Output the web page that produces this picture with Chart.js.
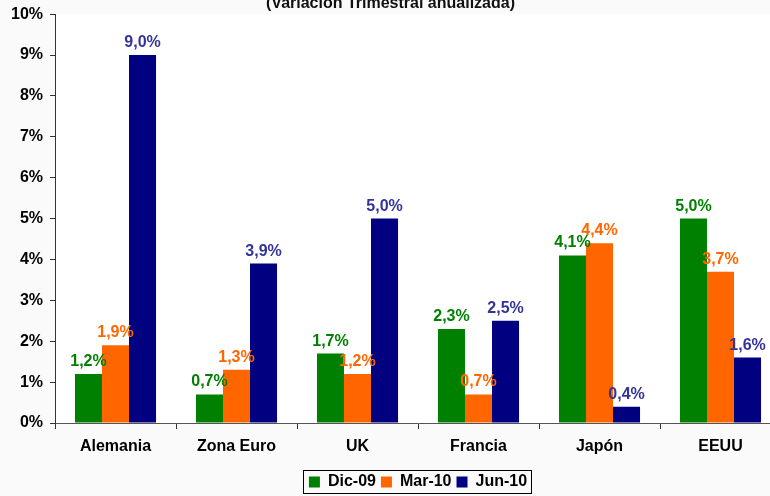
<!DOCTYPE html>
<html>
<head>
<meta charset="utf-8">
<script src="https://cdn.jsdelivr.net/npm/chart.js@4.4.1/dist/chart.umd.min.js"></script>
<style>
  html, body { margin: 0; padding: 0; background: #fafafa; overflow: hidden; width: 770px; height: 496px; }
  #wrap { position: absolute; left: 0; top: -20px; width: 800px; height: 525px; }
</style>
</head>
<body>
<div id="wrap"><canvas id="myBarChart" width="800" height="525"></canvas></div>
<script>
const categories = ['Alemania', 'Zona Euro', 'UK', 'Francia', 'Japón', 'EEUU'];
const dic09 = [1.2, 0.7, 1.7, 2.3, 4.1, 5.0];
const mar10 = [1.9, 1.3, 1.2, 0.7, 4.4, 3.7];
const jun10 = [9.0, 3.9, 5.0, 2.5, 0.4, 1.6];
const yTicks = [0, 1, 2, 3, 4, 5, 6, 7, 8, 9, 10];

const FONT = "'Liberation Sans', Arial, sans-serif";

// value labels above each bar
const valueLabels = {
  id: 'valueLabels',
  afterDatasetsDraw(chart) {
    const ctx = chart.ctx;
    ctx.save();
    ctx.font = 'bold 16px ' + FONT;
    ctx.textAlign = 'center';
    ctx.textBaseline = 'alphabetic';
    chart.data.datasets.forEach((ds, i) => {
      const meta = chart.getDatasetMeta(i);
      ctx.fillStyle = ds.labelColor;
      meta.data.forEach((bar, j) => {
        const txt = ds.data[j].toFixed(1).replace('.', ',') + '%';
        ctx.fillText(txt, bar.x, bar.y - 8);
      });
    });
    ctx.restore();
  }
};

// border around the legend
const legendBorder = {
  id: 'legendBorder',
  afterDraw(chart) {
    const boxes = chart.legend.legendHitBoxes;
    if (!boxes || !boxes.length) return;
    let l = Infinity, r = -Infinity, t = Infinity, b = -Infinity;
    boxes.forEach(h => {
      l = Math.min(l, h.left); r = Math.max(r, h.left + h.width);
      t = Math.min(t, h.top); b = Math.max(b, h.top + h.height);
    });
    const ctx = chart.ctx;
    ctx.save();
    ctx.strokeStyle = '#000';
    ctx.lineWidth = 1;
    ctx.strokeRect(Math.round(l - 6) + 0.5, Math.round(t - 4) + 0.5, Math.round(r - l + 10), Math.round(b - t + 7));
    ctx.restore();
  }
};

const bg = {
  id: 'bg',
  beforeDraw(chart) {
    const ctx = chart.ctx;
    const a = chart.chartArea;
    ctx.save();
    ctx.fillStyle = '#fafafa';
    ctx.fillRect(0, 0, chart.width, chart.height);
    ctx.fillStyle = '#ffffff';
    ctx.fillRect(a.left, a.top, a.right - a.left, a.bottom - a.top);
    ctx.restore();
  }
};

var ctx = document.getElementById('myBarChart').getContext('2d');

var chart = new Chart(ctx, {
  type: 'bar',
  data: {
    labels: categories,
    datasets: [
      { label: 'Dic-09', data: dic09, backgroundColor: '#008000', labelColor: '#008000' },
      { label: 'Mar-10', data: mar10, backgroundColor: '#FF6600', labelColor: '#FF6600' },
      { label: 'Jun-10', data: jun10, backgroundColor: '#000080', labelColor: '#333399' }
    ]
  },
  options: {
    responsive: false,
    animation: false,
    layout: { padding: { left: 0, right: 19, top: 0, bottom: 5 } },
    datasets: { bar: { categoryPercentage: 0.67, barPercentage: 1.0 } },
    plugins: {
      title: {
        display: true,
        text: '(Variación Trimestral anualizada)',
        color: '#111',
        font: { family: FONT, size: 16, weight: 'bold' },
        padding: { top: 14, bottom: 1 }
      },
      legend: {
        position: 'bottom',
        fullSize: false,
        labels: {
          color: '#000',
          font: { family: FONT, size: 16, weight: 'bold' },
          boxWidth: 11,
          boxHeight: 11,
          padding: 5
        }
      },
      tooltip: { enabled: false }
    },
    scales: {
      x: {
        grid: { display: true, offset: true, drawOnChartArea: false, drawTicks: true, tickLength: 6, color: '#333' },
        border: { color: '#555', width: 1 },
        ticks: { color: '#000', font: { family: FONT, size: 16, weight: 'bold' }, padding: 8 },
        afterFit(scale) { scale.height = 46; }
      },
      y: {
        min: 0,
        max: 10,
        afterBuildTicks(scale) { scale.ticks = yTicks.map(v => ({ value: v })); },
        grid: { drawOnChartArea: false, drawTicks: true, tickLength: 5, color: '#333' },
        border: { color: '#333', width: 1 },
        ticks: {
          color: '#000',
          font: { family: FONT, size: 16, weight: 'bold' },
          padding: 7,
          callback: v => v + '%'
        },
        afterFit(scale) { scale.width = 55; }
      }
    }
  },
  plugins: [bg, valueLabels, legendBorder]
});
</script>
</body>
</html>
